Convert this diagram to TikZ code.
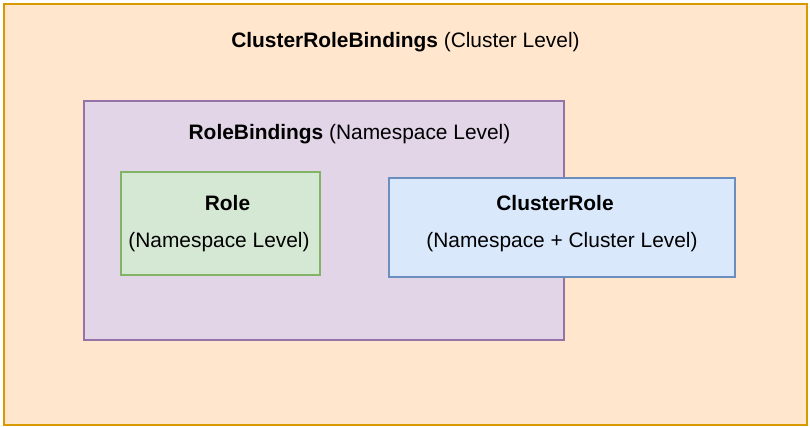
\documentclass[tikz,border=0pt]{standalone}
\usepackage{fontspec}
\setmainfont{Liberation Sans}
\usepackage{tikz}

\definecolor{clusterfill}{HTML}{FFE6CC}
\definecolor{clusterline}{HTML}{D79B00}
\definecolor{bindfill}{HTML}{E1D5E7}
\definecolor{bindline}{HTML}{9673A6}
\definecolor{rolefill}{HTML}{D5E8D4}
\definecolor{roleline}{HTML}{82B366}
\definecolor{crolefill}{HTML}{DAE8FC}
\definecolor{croleline}{HTML}{6C8EBF}

\tikzset{
    box/.style={draw, line width=1.5pt, inner sep=0pt, anchor=north west},
    label/.style={anchor=base, inner sep=0pt, font=\fontsize{20.9}{24}\selectfont},
}

\begin{document}
\begin{tikzpicture}[x=1pt, y=-1pt]
    \useasboundingbox (0, 0) rectangle (810, 426);
    % boxes
    \node[box, line width=2pt, draw=clusterline, fill=clusterfill, minimum width=803pt, minimum height=421pt] (cluster) at (3, 3) {};
    \node[box, draw=bindline, fill=bindfill, minimum width=480pt, minimum height=239pt] (bindings) at (83, 100) {};
    \node[box, draw=roleline, fill=rolefill, minimum width=199pt, minimum height=103pt] (role) at (120, 171) {};
    \node[box, draw=croleline, fill=crolefill, minimum width=346pt, minimum height=99pt] (crole) at (388, 177) {};
    % texts
    \node[label] (clustertext) at (405.5, 47.5) {\textbf{ClusterRoleBindings} (Cluster Level)};
    \node[label] (bindtext) at (349.5, 139.5) {\textbf{RoleBindings} (Namespace Level)};
    \node[label] (roletext) at (227.5, 210.5) {\textbf{Role}};
    \node[label] (rolelevel) at (219, 247.5) {(Namespace Level)};
    \node[label] (croletext) at (555, 210.5) {\textbf{ClusterRole}};
    \node[label] (crolelevel) at (562, 247.5) {(Namespace + Cluster Level)};
\end{tikzpicture}
\end{document}
